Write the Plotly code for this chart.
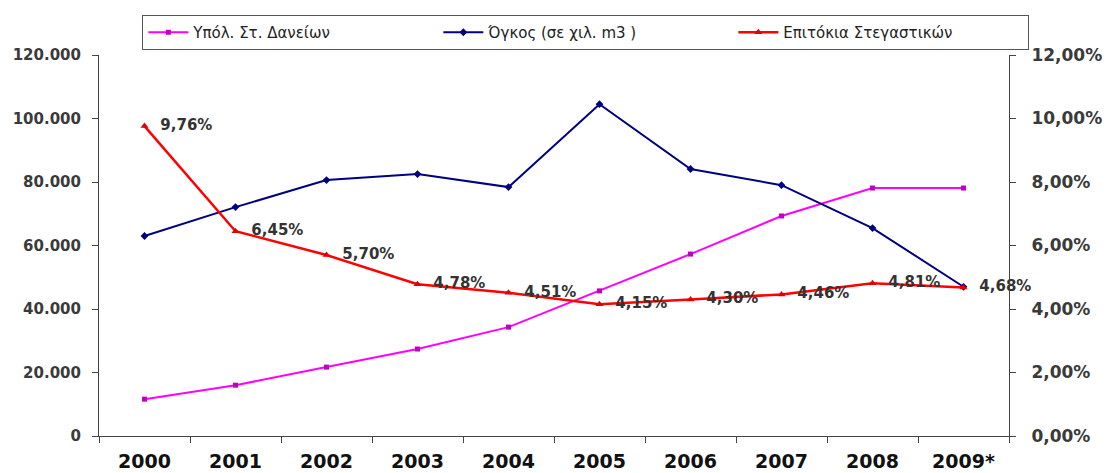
import plotly.graph_objects as go

# Data
years = ['2000', '2001', '2002', '2003', '2004', '2005', '2006', '2007', '2008', '2009*']
loans = [11600, 16000, 21700, 27400, 34300, 45700, 57300, 69300, 78100, 78100]
volume = [63000, 72100, 80600, 82500, 78400, 104500, 84100, 79000, 65500, 47000]
rates = [0.0976, 0.0645, 0.0570, 0.0478, 0.0451, 0.0415, 0.0430, 0.0446, 0.0481, 0.0468]

fig = go.Figure()

fig.add_trace(go.Scatter(
    x=years, y=loans, name='Υπόλ. Στ. Δανείων',
    mode='lines+markers',
    line=dict(color='#FF00FF', width=2),
    marker=dict(symbol='square', size=5, color='#C000C0'),
))

fig.add_trace(go.Scatter(
    x=years, y=volume, name='Όγκος (σε χιλ. m3 )',
    mode='lines+markers',
    line=dict(color='#000080', width=2),
    marker=dict(symbol='diamond', size=6, color='#000080'),
))

fig.add_trace(go.Scatter(
    x=years, y=rates, name='Επιτόκια Στεγαστικών',
    yaxis='y2',
    mode='lines+markers+text',
    line=dict(color='#FF0000', width=2.5),
    marker=dict(symbol='triangle-up', size=7, color='#E00000'),
    texttemplate='\u00a0\u00a0%{y:.2%}',
    textposition='middle right',
    textfont=dict(family='DejaVu Sans', size=15, color='#333333', weight='bold'),
    cliponaxis=False,
))

fig.update_layout(
    width=1107, height=473,
    separators=',.',
    plot_bgcolor='white',
    paper_bgcolor='white',
    margin=dict(l=99, r=98, t=55, b=37),
    font=dict(family='Arial', color='#333333'),
    legend=dict(
        orientation='h',
        x=0.535, xanchor='center',
        y=1.105, yanchor='top',
        bordercolor='#555555', borderwidth=1,
        bgcolor='white',
        font=dict(family='DejaVu Sans', size=15, color='#222222'),
        entrywidth=240,
        itemwidth=40,
    ),
    xaxis=dict(
        type='category',
        automargin=False,
        showline=True, linecolor='#444444', linewidth=1,
        ticks='outside', ticklen=6, tickcolor='#444444',
        tickson='boundaries',
        ticklabelstandoff=8,
        tickfont=dict(family='DejaVu Sans', size=19, color='#111111', weight='bold'),
        showgrid=False,
        range=[-0.5, 9.5],
    ),
    yaxis=dict(
        range=[0, 120000],
        automargin=False,
        tickvals=[0, 20000, 40000, 60000, 80000, 100000, 120000],
        tickformat=',d',
        showline=True, linecolor='#444444', linewidth=1,
        ticks='outside', ticklen=6, tickcolor='#444444',
        ticklabelstandoff=8,
        tickfont=dict(family='DejaVu Sans', size=15, color='#3a3a3a', weight='bold'),
        showgrid=False, zeroline=False,
    ),
    yaxis2=dict(
        overlaying='y', side='right',
        automargin=False,
        range=[0, 0.12],
        tickvals=[0, 0.02, 0.04, 0.06, 0.08, 0.10, 0.12],
        tickformat='.2%',
        showline=True, linecolor='#444444', linewidth=1,
        ticks='outside', ticklen=6, tickcolor='#444444',
        ticklabelstandoff=12,
        tickfont=dict(family='DejaVu Sans', size=17, color='#3a3a3a', weight='bold'),
        showgrid=False, zeroline=False,
    ),
)

fig.write_html(
    "out.html",
    config={'displayModeBar': False},
    post_script="document.body.style.margin='0';",
)
